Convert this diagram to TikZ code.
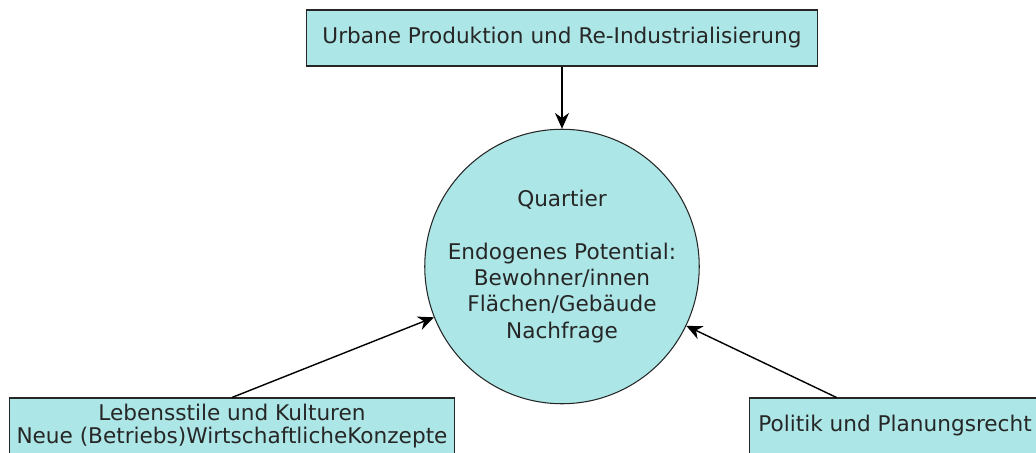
\documentclass[tikz,border=0pt]{standalone}
\usepackage{fontspec}
\setmainfont{DejaVu Sans}
\usetikzlibrary{arrows.meta}
\definecolor{quartierfill}{RGB}{173,230,230}
\tikzset{
  factorbox/.style={rectangle, draw=black!85, fill=quartierfill, text=black!85, line width=0.6pt, inner sep=0pt, minimum height=1.12cm, align=center, font=\fontsize{12.3}{15}\selectfont},
  influence/.style={-{Stealth[length=9pt,width=8pt]}, line width=0.8pt},
}
\begin{document}
\begin{tikzpicture}[x=0.02cm,y=-0.02cm]
			\useasboundingbox (0,0) rectangle (1036,453);
			\node[circle, draw=black!85, fill=quartierfill, text=black!85, line width=0.6pt, inner sep=0pt, minimum size=5.36cm, align=center, font=\fontsize{12.3}{15}\selectfont] (quartier) at (562,266.5) {Quartier\\[15pt] Endogenes Potential:\\ Bewohner/innen\\ Flächen/Gebäude\\ Nachfrage};
			\node[factorbox, minimum width=10.24cm] (produktion) at (562,38) {Urbane Produktion und Re-Industrialisierung};
			\node[factorbox, minimum width=8.92cm, font=\fontsize{12.3}{13}\selectfont] (lebensstile) at (232,426) {Lebensstile und Kulturen\\ Neue (Betriebs)WirtschaftlicheKonzepte};
			\node[factorbox, minimum width=5.84cm] (politik) at (895,426) {Politik und Planungsrecht};
			\coordinate (politiktop) at ([xshift=1.76cm]politik.north west);
			\draw[influence] (produktion) -- (quartier);
			\draw[influence] (lebensstile.north) -- (quartier);
			\draw[influence] (politiktop) -- (quartier);
		\end{tikzpicture}
\end{document}
